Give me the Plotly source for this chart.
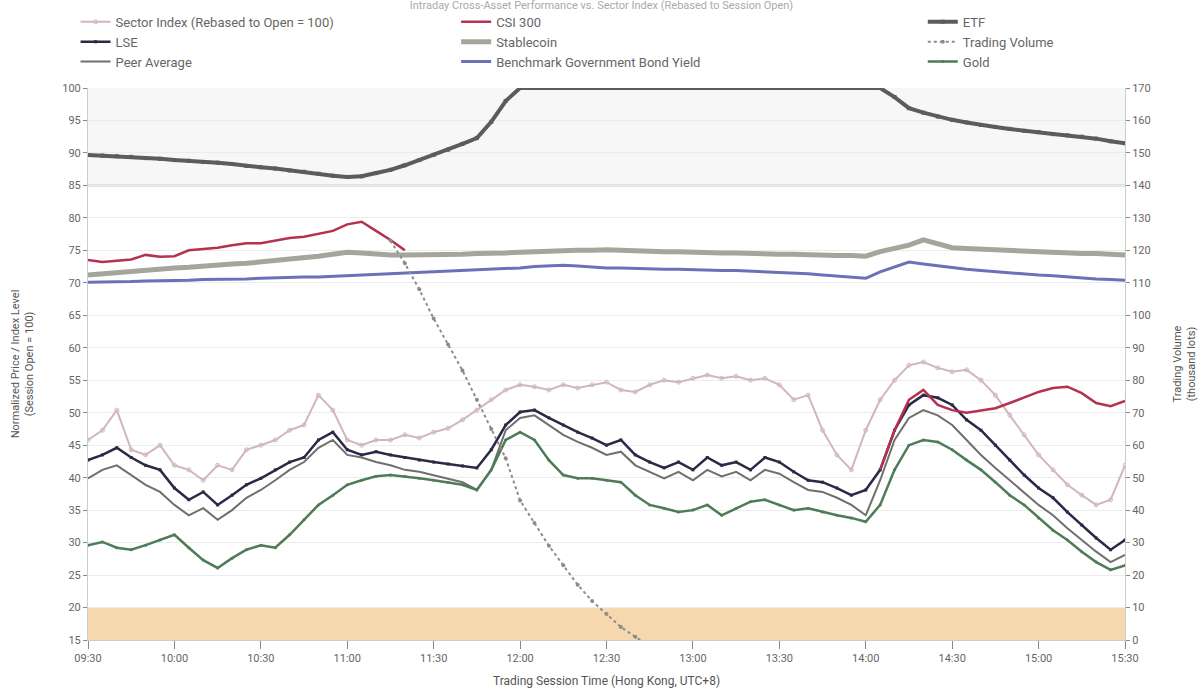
import plotly.graph_objects as go

# Session timeline: 73 intraday observations, labelled every 30 minutes
x_idx = list(range(73))
tick_pos = [0, 6, 12, 18, 24, 30, 36, 42, 48, 54, 60, 66, 72]
tick_text = ["09:30", "10:00", "10:30", "11:00", "11:30", "12:00", "12:30",
             "13:00", "13:30", "14:00", "14:30", "15:00", "15:30"]

etf = [89.7, 89.6, 89.5, 89.4, 89.2, 89.1, 88.9, 88.8, 88.6, 88.5, 88.3, 88.0, 87.8,
       87.6, 87.3, 87.1, 86.8, 86.5, 86.3, 86.4, 86.9, 87.4, 88.1, 88.9, 89.7, 90.5,
       91.4, 92.3, 94.8, 98.0, 100, 100, 100, 100, 100, 100, 100, 100, 100, 100, 100,
       100, 100, 100, 100, 100, 100, 100, 100, 100, 100, 100, 100, 100, 100, 100, 98.6,
       96.9, 96.2, 95.6, 95.1, 94.7, 94.3, 94.0, 93.7, 93.4, 93.2, 92.9, 92.7, 92.5,
       92.2, 91.8, 91.5]

csi = [73.5, 73.2, 73.4, 73.6, 74.3, 74.0, 74.1, 75.0, 75.2, 75.4, 75.8, 76.1, 76.1,
       76.5, 76.9, 77.1, 77.5, 78.0, 79.0, 79.4, 78.0, 76.6, 75.0] + [None] * 32 + \
      [41.2, 47.3, 52.0, 53.5, 51.2, 50.4, 50.0, 50.4, 50.7, 51.5, 52.4, 53.2, 53.8,
       54.0, 53.0, 51.5, 51.0, 51.8]

bond = [70.1, 70.1, 70.2, 70.2, 70.3, 70.3, 70.4, 70.4, 70.5, 70.5, 70.6, 70.6, 70.7,
        70.8, 70.8, 70.9, 70.9, 71.0, 71.0, 71.1, 71.3, 71.4, 71.5, 71.6, 71.7, 71.8,
        71.9, 72.0, 72.1, 72.2, 72.3, 72.5, 72.6, 72.7, 72.6, 72.4, 72.3, 72.3, 72.2,
        72.2, 72.1, 72.1, 72.0, 72.0, 71.9, 71.9, 71.8, 71.8, 71.7, 71.5, 71.4, 71.2,
        71.0, 70.8, 70.7, 71.7, 72.5, 73.2, 72.9, 72.6, 72.3, 72.1, 71.9, 71.7, 71.6,
        71.4, 71.2, 71.1, 70.9, 70.8, 70.6, 70.5, 70.4]

stablecoin = [71.2, 71.4, 71.5, 71.7, 71.9, 72.1, 72.3, 72.4, 72.6, 72.7, 72.9, 73.0,
              73.2, 73.4, 73.6, 73.8, 74.1, 74.4, 74.7, 74.6, 74.4, 74.3, 74.3, 74.3,
              74.3, 74.4, 74.4, 74.5, 74.5, 74.6, 74.7, 74.8, 74.9, 74.9, 75.0, 75.0,
              75.1, 75.0, 74.9, 74.9, 74.8, 74.8, 74.7, 74.7, 74.6, 74.6, 74.5, 74.5,
              74.4, 74.4, 74.3, 74.3, 74.2, 74.2, 74.1, 74.8, 75.3, 75.8, 76.6, 76.0,
              75.4, 75.3, 75.2, 75.1, 75.0, 74.9, 74.7, 74.7, 74.6, 74.5, 74.5, 74.4,
              74.3]

# Trading volume is read on the right-hand axis
volume = [None] * 21 + [123, 116, 108, 99, 91, 83, 74, 65, 56, 43, 36, 29, 23, 17, 12,
                        8, 4, 1, -2] + [None] * 33

sector = [45.8, 47.3, 50.4, 44.3, 43.5, 45.0, 41.9, 41.2, 39.6, 41.9, 41.2, 44.3, 45.0,
          45.8, 47.3, 48.1, 52.7, 50.4, 45.8, 45.0, 45.8, 45.8, 46.6, 46.1, 47.0, 47.6,
          48.9, 50.4, 52.0, 53.5, 54.3, 54.0, 53.5, 54.3, 53.8, 54.3, 54.7, 53.5, 53.2,
          54.3, 55.0, 54.7, 55.3, 55.8, 55.3, 55.6, 55.0, 55.3, 54.3, 52.0, 52.7, 47.3,
          43.5, 41.2, 47.3, 52.0, 55.0, 57.3, 57.8, 56.9, 56.3, 56.6, 55.0, 52.7, 49.6,
          46.6, 43.5, 41.2, 38.9, 37.3, 35.8, 36.6, 41.9]

lse = [42.7, 43.5, 44.6, 43.1, 41.9, 41.2, 38.4, 36.6, 37.8, 35.8, 37.3, 38.9, 39.9,
       41.2, 42.4, 43.1, 45.8, 47.0, 44.3, 43.5, 44.0, 43.5, 43.1, 42.7, 42.4, 42.1,
       41.8, 41.5, 44.3, 48.1, 50.1, 50.4, 49.2, 48.1, 47.0, 46.1, 45.0, 45.8, 43.5,
       42.4, 41.5, 42.4, 41.2, 43.1, 41.9, 42.4, 41.2, 43.1, 42.4, 40.9, 39.6, 39.3,
       38.4, 37.3, 38.1, 41.2, 47.3, 51.2, 52.7, 52.3, 51.2, 48.9, 47.3, 45.0, 42.7,
       40.4, 38.4, 36.9, 34.7, 32.7, 30.7, 28.9, 30.4]

peers = [39.9, 41.2, 41.9, 40.4, 38.9, 37.8, 35.8, 34.2, 35.3, 33.5, 35.0, 36.9, 38.1,
         39.6, 41.2, 42.4, 44.6, 45.8, 43.5, 43.1, 42.4, 41.9, 41.2, 40.9, 40.4, 39.9,
         39.3, 38.1, 41.2, 47.3, 49.2, 49.6, 48.1, 46.6, 45.5, 44.6, 43.5, 44.0, 41.9,
         40.9, 39.9, 40.9, 39.6, 41.2, 40.2, 40.9, 39.6, 41.2, 40.6, 39.3, 38.1, 37.8,
         36.9, 35.8, 34.2, 39.6, 45.8, 49.2, 50.4, 49.6, 48.1, 45.8, 43.5, 41.5, 39.6,
         37.8, 35.8, 34.2, 32.2, 30.4, 28.6, 27.0, 28.1]

gold = [29.6, 30.1, 29.2, 28.9, 29.6, 30.4, 31.2, 29.2, 27.3, 26.1, 27.6, 28.9, 29.6,
        29.2, 31.2, 33.5, 35.8, 37.3, 38.9, 39.6, 40.2, 40.4, 40.2, 39.9, 39.6, 39.3,
        38.9, 38.1, 41.2, 45.8, 47.0, 45.8, 42.7, 40.4, 39.9, 39.9, 39.6, 39.3, 37.3,
        35.8, 35.3, 34.7, 35.0, 35.8, 34.2, 35.3, 36.3, 36.6, 35.8, 35.0, 35.3, 34.7,
        34.2, 33.8, 33.2, 35.8, 41.2, 45.0, 45.8, 45.5, 44.3, 42.7, 41.2, 39.3, 37.3,
        35.8, 33.8, 31.9, 30.4, 28.6, 27.0, 25.8, 26.5]

fig = go.Figure()

# Reference bands
fig.add_hrect(y0=85, y1=100, fillcolor="rgba(215,215,215,0.2)", line_width=0, layer="below")
fig.add_hline(y=85, line=dict(color="#c9c9c9", width=2), layer="below")
fig.add_hrect(y0=15, y1=20, fillcolor="rgba(240,190,120,0.6)", line_width=0, layer="below")

def line(name, y, color, width, legend, marker=None, dash="solid", yaxis="y", msize=5):
    mode = "lines+markers" if marker else "lines"
    fig.add_trace(go.Scatter(
        x=x_idx, y=y, name=name, mode=mode, yaxis=yaxis, legend=legend,
        line=dict(color=color, width=width, dash=dash),
        marker=dict(symbol=marker or "circle", size=msize, color=color),
        connectgaps=False,
    ))

# Legend column 1
line("Sector Index (Rebased to Open = 100)", sector, "#d1b6c2", 2, "legend",
     marker="circle-open", msize=4)
line("LSE", lse, "#2b2946", 2.5, "legend", marker="square", msize=3)
line("Peer Average", peers, "#6f6f6f", 2, "legend")
# Legend column 2
line("CSI 300", csi, "#b4324e", 2.5, "legend2")
line("Stablecoin", stablecoin, "#a4a69c", 5, "legend2")
line("Benchmark Government Bond Yield", bond, "#6b70b8", 3, "legend2")
# Legend column 3
line("ETF", etf, "#5c5c5c", 4, "legend3", marker="square", msize=4)
line("Trading Volume", volume, "#8c8c8c", 2, "legend3", marker="circle", dash="dot",
     yaxis="y2", msize=4)
line("Gold", gold, "#4e7c56", 2.5, "legend3", marker="circle", msize=3)

legend_style = dict(orientation="v", y=1.147, yanchor="top", xanchor="left",
                    font=dict(size=13, color="#666"), bgcolor="rgba(0,0,0,0)",
                    tracegroupgap=0)

fig.update_layout(
    width=1203, height=695,
    margin=dict(l=88, r=78, t=88, b=55, autoexpand=False),
    paper_bgcolor="white", plot_bgcolor="white",
    font=dict(family="Roboto, Arial, sans-serif", size=11, color="#555"),
    title=dict(text="Intraday Cross-Asset Performance vs. Sector Index (Rebased to Session Open)",
               x=0.5, xanchor="center", y=1.0, yanchor="top", pad=dict(t=1),
               font=dict(size=11, color="#aaa")),
    legend=dict(x=-0.012, **legend_style),
    legend2=dict(x=0.355, **legend_style),
    legend3=dict(x=0.805, **legend_style),
    xaxis=dict(range=[0, 72], tickvals=tick_pos, ticktext=tick_text,
               showgrid=False, zeroline=False, showline=True, linecolor="#ccc",
               ticks="outside", ticklen=8, tickcolor="#888",
               tickfont=dict(size=11, color="#666"),
               title=dict(text="Trading Session Time (Hong Kong, UTC+8)",
                          font=dict(size=12, color="#555"), standoff=12)),
    yaxis=dict(range=[15, 100], dtick=5, tick0=15, showgrid=True, gridcolor="#ececec",
               zeroline=False, showline=True, linecolor="#ccc", mirror=False,
               ticks="outside", ticklen=4, tickcolor="#888",
               tickfont=dict(size=11, color="#666"),
               title=dict(text="Normalized Price / Index Level<br>(Session Open = 100)",
                          font=dict(size=11, color="#555"), standoff=26)),
    yaxis2=dict(range=[0, 170], dtick=10, tick0=0, overlaying="y", side="right",
                showgrid=False, zeroline=False, showline=True, linecolor="#ccc",
                ticks="outside", ticklen=4, tickcolor="#888",
                tickfont=dict(size=11, color="#666"),
                title=dict(text="Trading Volume<br>(thousand lots)",
                           font=dict(size=11, color="#555"), standoff=23)),
)

fig.write_html("out.html")
